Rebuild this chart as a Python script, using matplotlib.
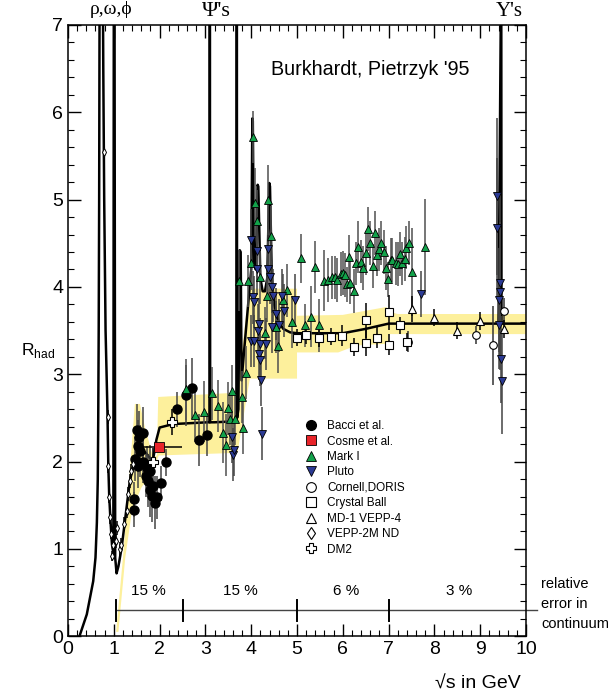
import numpy as np
import matplotlib
matplotlib.use('Agg')
import matplotlib.pyplot as plt
from matplotlib.lines import Line2D

plt.rcParams['font.family'] = ['Liberation Sans', 'DejaVu Sans']
plt.rcParams['mathtext.fontset'] = 'custom'
plt.rcParams['mathtext.rm'] = 'Liberation Sans'

# theory curve (spikes = narrow resonances)
curve_x = [0.25, 0.41, 0.55, 0.60, 0.63, 0.65, 0.66, 0.67, 0.68, 0.69,
           0.76, 0.77, 0.79, 0.82, 0.86, 0.88, 0.90, 0.93, 0.96, 0.99,
           1.00, 1.015, 1.03, 1.06, 1.10, 1.17, 1.25, 1.35, 1.45, 1.55,
           1.70, 1.85, 1.93, 2.00, 2.30, 3.05, 3.09, 3.097, 3.104, 3.20,
           3.60, 3.68, 3.686, 3.692, 3.72, 3.75, 3.77, 3.79, 3.85, 3.90,
           3.95, 4.00, 4.025, 4.035, 4.06, 4.10, 4.14, 4.155, 4.20, 4.25,
           4.30, 4.35, 4.395, 4.41, 4.45, 4.50, 4.60, 4.70, 4.85, 5.00,
           6.00, 6.50, 7.00, 9.40, 9.455, 9.46, 9.465, 10.0]
curve_y = [0.0, 0.25, 0.63, 0.90, 1.30, 1.80, 2.50, 3.50, 5.00, 7.50,
           7.50, 6.50, 5.00, 3.50, 2.60, 1.95, 1.60, 1.30, 1.05, 0.95,
           7.50, 7.50, 0.90, 0.72, 0.80, 1.01, 1.35, 1.78, 2.00, 2.15,
           2.10, 2.00, 2.25, 2.39, 2.43, 2.45, 2.45, 7.50, 2.45, 2.45,
           2.46, 2.46, 7.50, 2.50, 2.60, 4.42, 4.40, 2.93, 3.30, 3.60,
           3.90, 4.20, 5.93, 5.90, 4.30, 4.20, 5.17, 5.15, 4.10, 3.95,
           3.95, 4.10, 5.19, 5.15, 4.10, 3.80, 3.60, 3.52, 3.48, 3.47,
           3.47, 3.52, 3.58, 3.58, 7.50, 7.50, 3.58, 3.58]

# yellow error band (upper edge left->right, lower edge right->left)
band_up_x = [1.05, 1.20, 1.35, 1.46, 1.57, 1.68, 1.86, 1.94, 1.97, 3.70,
             3.95, 5.00, 5.00, 6.00, 6.95, 7.00, 7.20, 10.0]
band_up_y = [0.05, 0.90, 1.90, 2.66, 2.66, 2.39, 2.05, 2.07, 2.74, 2.79,
             3.98, 3.98, 3.67, 3.68, 3.77, 3.72, 3.69, 3.69]
band_lo_x = [10.0, 7.00, 7.00, 6.30, 5.90, 5.00, 5.00, 3.97, 3.70, 1.98,
             1.86, 1.60, 1.40, 1.25, 1.10]
band_lo_y = [3.46, 3.46, 3.35, 3.33, 3.25, 3.25, 2.95, 2.95, 2.10, 2.07,
             1.90, 1.70, 1.45, 0.90, 0.05]

# relative error in continuum
err_edges = [1.05, 2.5, 5.0, 7.0]
err_labels = ['15 %', '15 %', '6 %', '3 %']
err_label_x = [1.75, 3.76, 6.08, 8.55]

# data sets: x, R, error
bacci_x = [1.43, 1.45, 1.46, 1.50, 1.52, 1.53, 1.54, 1.57, 1.64, 1.64, 1.71, 1.72, 1.75,
           1.79, 1.80, 1.84, 1.86, 1.89, 1.94, 2.03, 2.15, 2.37, 2.58, 2.70, 2.86, 3.03]
bacci_y = [1.45, 1.57, 2.03, 2.36, 2.18, 1.95, 2.28, 2.12, 2.33, 2.00, 1.84, 1.93, 1.78,
           1.89, 1.67, 1.61, 1.72, 1.53, 1.59, 1.75, 1.99, 2.60, 2.76, 2.84, 2.25, 2.31]
bacci_e = [0.20, 0.20, 0.25, 0.30, 0.30, 0.25, 0.30, 0.30, 0.30, 0.25, 0.25, 0.25, 0.30,
           0.30, 0.30, 0.30, 0.25, 0.30, 0.25, 0.20, 0.15, 0.20, 0.35, 0.35, 0.30, 0.25]

cosme_x = [1.99]
cosme_y = [2.17]
cosme_xlo = [0.35]
cosme_xhi = [0.49]

markI_x = [2.58, 2.77, 2.98, 3.14, 3.28, 3.38, 3.44, 3.49, 3.54, 3.59, 3.65, 3.79, 3.83,
           3.89, 3.74, 3.94, 3.99, 4.03, 4.08, 4.13, 4.19, 4.30, 4.34, 4.37, 4.43, 4.54,
           4.58, 4.70, 4.79, 4.88, 5.09, 5.18, 5.30, 5.39, 5.49, 5.59, 5.68, 5.76, 5.83,
           5.88, 5.95, 6.01, 6.05, 6.10, 6.14, 6.16, 6.24, 6.29, 6.34, 6.39, 6.43, 6.50,
           6.54, 6.59, 6.65, 6.70, 6.75, 6.80, 6.84, 6.90, 6.94, 6.99, 7.05, 7.08, 7.16,
           7.21, 7.25, 7.30, 7.35, 7.39, 7.44, 7.50, 7.80]
markI_y = [2.83, 2.53, 2.57, 2.78, 2.64, 2.33, 2.19, 2.61, 2.49, 2.81, 2.49, 2.74, 2.39,
           3.02, 4.07, 4.07, 4.27, 5.72, 4.96, 4.76, 4.11, 3.47, 3.90, 5.00, 4.58, 3.54,
           3.32, 3.85, 3.96, 3.60, 4.33, 3.56, 3.66, 4.23, 3.56, 4.07, 4.08, 4.11, 4.11,
           4.08, 4.15, 4.16, 4.14, 4.03, 4.34, 4.05, 3.95, 4.27, 4.46, 4.29, 4.22, 4.39,
           4.66, 4.50, 4.24, 4.62, 4.37, 4.43, 4.50, 4.40, 4.22, 4.09, 4.31, 4.31, 4.27,
           4.26, 4.38, 4.27, 4.32, 4.45, 4.50, 4.17, 4.46]
markI_e = [0.35, 0.30, 0.35, 0.30, 0.30, 0.35, 0.35, 0.30, 0.30, 0.30, 0.30, 0.30, 0.30,
           0.30, 0.35, 0.30, 0.30, 0.30, 0.40, 0.35, 0.30, 0.30, 0.30, 0.40, 0.35, 0.30,
           0.30, 0.30, 0.30, 0.30, 0.28, 0.25, 0.35, 0.30, 0.30, 0.35, 0.25, 0.25, 0.25,
           0.25, 0.25, 0.25, 0.25, 0.20, 0.25, 0.25, 0.25, 0.25, 0.30, 0.25, 0.25, 0.25,
           0.25, 0.25, 0.25, 0.25, 0.25, 0.25, 0.25, 0.25, 0.25, 0.20, 0.25, 0.25, 0.25,
           0.25, 0.25, 0.25, 0.25, 0.25, 0.25, 0.50, 0.55]

pluto_x = [3.57, 3.61, 3.63, 4.00, 4.03, 4.00, 4.05, 4.06, 4.12, 4.13, 4.15, 4.16, 4.17,
           4.19, 4.20, 4.21, 4.24, 4.32, 4.37, 4.37, 4.40, 4.45, 4.45, 4.48, 4.54, 4.61,
           4.67, 4.72, 4.96, 7.70, 9.36, 9.37, 9.43, 9.44, 9.41, 9.42, 9.45, 9.47]
pluto_y = [2.28, 2.08, 2.13, 4.54, 3.88, 3.38, 3.38, 3.83, 4.41, 4.21, 3.50, 3.23, 3.57,
           3.35, 3.16, 2.94, 2.32, 3.35, 4.44, 4.21, 4.11, 4.00, 3.54, 3.90, 3.69, 3.56,
           3.90, 3.73, 3.85, 3.92, 5.04, 4.68, 4.05, 3.94, 3.85, 3.56, 3.17, 2.92]
pluto_e = [0.30, 0.30, 0.30, 0.35, 0.30, 0.30, 0.30, 0.30, 0.35, 0.30, 0.30, 0.30, 0.30,
           0.30, 0.30, 0.30, 0.30, 0.30, 0.30, 0.30, 0.30, 0.30, 0.30, 0.30, 0.30, 0.30,
           0.30, 0.30, 0.30, 0.26, 0.90, 0.80, 1.00, 0.80, 0.60, 0.50, 0.50, 0.60]

cornell_x = [7.43, 8.91, 9.29, 9.51]
cornell_y = [3.37, 3.45, 3.33, 3.72]
cornell_e = [0.12, 0.10, 0.45, 0.15]

cball_x = [4.99, 5.20, 5.49, 5.74, 5.99, 6.24, 6.50, 6.50, 6.75, 7.00, 7.00, 7.25, 7.41]
cball_y = [3.42, 3.45, 3.41, 3.43, 3.44, 3.31, 3.62, 3.36, 3.42, 3.71, 3.34, 3.56, 3.37]
cball_e = [0.10, 0.10, 0.10, 0.10, 0.12, 0.10, 0.20, 0.15, 0.12, 0.20, 0.12, 0.10, 0.10]

md1_x = [7.50, 7.99, 8.50, 9.00, 9.51]
md1_y = [3.75, 3.65, 3.50, 3.61, 3.52]
md1_e = [0.15, 0.10, 0.10, 0.10, 0.10]

vepp_x = [0.79, 0.87, 0.88, 0.90, 0.92, 0.94, 0.96, 0.99, 1.04, 1.08, 1.14, 1.16, 1.23,
          1.28, 1.32, 1.35, 1.38, 1.41]
vepp_y = [5.54, 2.51, 1.95, 1.60, 1.36, 1.17, 0.92, 1.05, 1.09, 1.24, 1.00, 1.05, 1.28,
          1.43, 1.63, 1.78, 1.89, 1.97]
vepp_e = [0.10, 0.08, 0.08, 0.07, 0.07, 0.06, 0.06, 0.06, 0.08, 0.08, 0.08, 0.08, 0.08,
          0.08, 0.08, 0.08, 0.08, 0.08]

dm2_x = [1.86, 2.26]
dm2_y = [2.00, 2.45]
dm2_e = [0.15, 0.15]

green = '#12a24a'
blue = '#2b3a94'
red = '#e8242a'
band_col = '#fdf09c'

fig = plt.figure(figsize=(6.1, 6.92), dpi=100)
ax = fig.add_axes([0.1115, 0.0806, 0.7508, 0.8833])

ax.fill(band_up_x + band_lo_x, band_up_y + band_lo_y, color=band_col, lw=0, zorder=1)

ax.plot(curve_x, curve_y, color='k', lw=1.8, zorder=3, clip_on=True)

# relative error bar
ax.plot([err_edges[0], 10.25], [0.3, 0.3], color='#444444', lw=1, clip_on=False, zorder=2)
for xe in err_edges:
    ax.plot([xe, xe], [0.18, 0.42], color='k', lw=1.4, zorder=2)
for xl, lab in zip(err_label_x, err_labels):
    ax.text(xl, 0.44, lab, ha='center', va='bottom', fontsize=11)

ebar = dict(fmt='none', lw=1.1, capsize=0, zorder=4)
ax.errorbar(bacci_x, bacci_y, yerr=bacci_e, ecolor='#444444', **ebar)
ax.errorbar(markI_x, markI_y, yerr=markI_e, ecolor='#505050', **ebar)
ax.errorbar(pluto_x, pluto_y, yerr=pluto_e, ecolor='#444444', **ebar)
ax.errorbar(cornell_x, cornell_y, yerr=cornell_e, ecolor='#333333', **ebar)
ax.errorbar(cball_x, cball_y, yerr=cball_e, ecolor='k', **ebar)
ax.errorbar(md1_x, md1_y, yerr=md1_e, ecolor='k', **ebar)
ax.errorbar(vepp_x, vepp_y, yerr=vepp_e, ecolor='k', **ebar)
ax.errorbar(dm2_x, dm2_y, yerr=dm2_e, ecolor='k', **ebar)
ax.errorbar(cosme_x, cosme_y, xerr=[cosme_xlo, cosme_xhi], ecolor='k', **ebar)

mk = dict(ls='none', zorder=5)
ax.plot(bacci_x, bacci_y, marker='o', ms=6.5, mfc='k', mec='k', **mk)
ax.plot(markI_x, markI_y, marker='^', ms=6, mfc=green, mec='k', mew=0.6, **mk)
ax.plot(pluto_x, pluto_y, marker='v', ms=6, mfc=blue, mec='k', mew=0.6, **mk)
ax.plot(cornell_x, cornell_y, marker='o', ms=5.5, mfc='w', mec='k', mew=0.8, **mk)
ax.plot(cball_x, cball_y, marker='s', ms=6, mfc='w', mec='k', mew=0.8, **mk)
ax.plot(md1_x, md1_y, marker='^', ms=6, mfc='w', mec='k', mew=0.8, **mk)
ax.plot(vepp_x, vepp_y, marker='d', ms=4, mfc='w', mec='k', mew=0.7, **mk)
ax.plot(dm2_x, dm2_y, marker='P', ms=6.5, mfc='w', mec='k', mew=0.8, **mk)
ax.plot(cosme_x, cosme_y, marker='s', ms=6.5, mfc=red, mec='k', mew=0.6, **mk)

handles = [
    Line2D([], [], ls='none', marker='o', ms=7, mfc='k', mec='k'),
    Line2D([], [], ls='none', marker='s', ms=7, mfc=red, mec='k', mew=0.6),
    Line2D([], [], ls='none', marker='^', ms=7, mfc=green, mec='k', mew=0.6),
    Line2D([], [], ls='none', marker='v', ms=7, mfc=blue, mec='k', mew=0.6),
    Line2D([], [], ls='none', marker='o', ms=7, mfc='w', mec='k', mew=0.8),
    Line2D([], [], ls='none', marker='s', ms=7, mfc='w', mec='k', mew=0.8),
    Line2D([], [], ls='none', marker='^', ms=7, mfc='w', mec='k', mew=0.8),
    Line2D([], [], ls='none', marker='d', ms=6, mfc='w', mec='k', mew=0.8),
    Line2D([], [], ls='none', marker='P', ms=7.5, mfc='w', mec='k', mew=0.8),
]
labels = ['Bacci et al.', 'Cosme et al.', 'Mark I', 'Pluto', 'Cornell,DORIS',
          'Crystal Ball', 'MD-1 VEPP-4', 'VEPP-2M ND', 'DM2']
ax.legend(handles, labels, loc='upper left', bbox_to_anchor=(0.499, 0.367),
          frameon=False, fontsize=8.5, handlelength=1.0, handletextpad=0.9,
          labelspacing=0.29, borderpad=0.2)

ax.set_xlim(0, 10)
ax.set_ylim(0, 7)
ax.set_xticks(np.arange(0, 11, 1))
ax.set_yticks(np.arange(0, 8, 1))
ax.set_xticks(np.arange(0, 10.01, 0.2), minor=True)
ax.set_yticks(np.arange(0, 7.01, 0.2), minor=True)
ax.tick_params(which='both', direction='in', top=True, right=True, labelsize=14)
ax.tick_params(which='major', length=9, width=1)
ax.tick_params(which='minor', length=4.5, width=0.8)
for s in ax.spines.values():
    s.set_linewidth(1.1)

ax.text(6.6, 6.49, "Burkhardt, Pietrzyk '95", ha='center', va='center', fontsize=14.2)
ax.text(-1.03, 3.27, r'R$_{\mathregular{had}}$', ha='left', va='center', fontsize=12.5)
ax.text(8.95, -0.55, '√s in GeV', ha='center', va='center', fontsize=14,
        family=['Liberation Sans', 'DejaVu Sans'])
ax.text(10.33, 0.37, 'relative\nerror in\ncontinuum', ha='left', va='center',
        fontsize=10.5, linespacing=1.55, clip_on=False)

serif = ['Liberation Serif', 'DejaVu Serif']
ax.text(0.95, 7.08, 'ρ,ω,ϕ', ha='center', va='bottom', fontsize=14, family=serif)
ax.text(3.23, 7.05, "Ψ's", ha='center', va='bottom', fontsize=16, family=serif)
ax.text(9.64, 7.05, "Υ's", ha='center', va='bottom', fontsize=15, family=serif)

fig.savefig('out.png', dpi=100)
